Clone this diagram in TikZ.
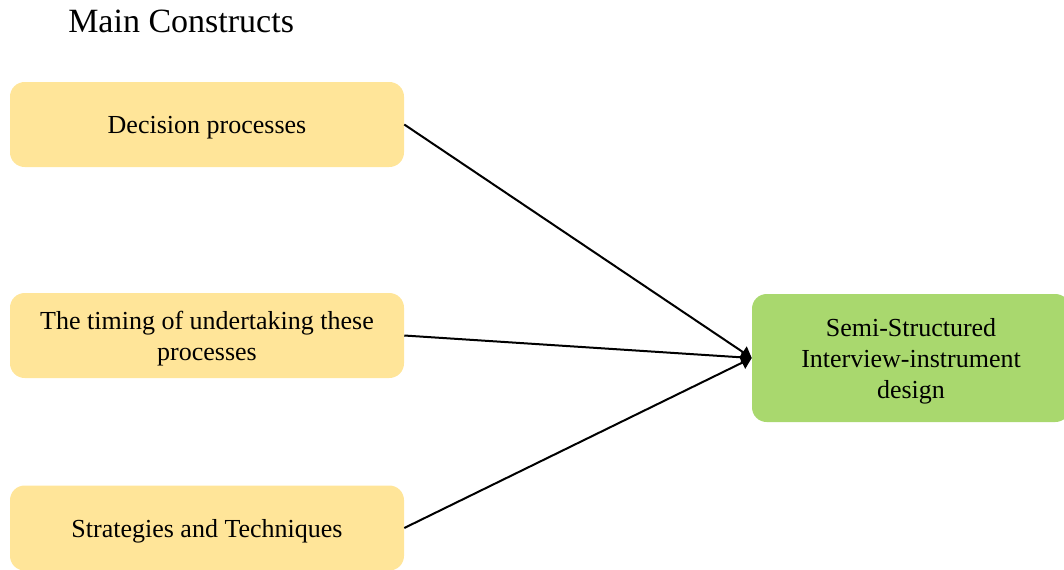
\documentclass[tikz,border=0pt]{standalone}
\usepackage{fontspec}
\setmainfont{Liberation Serif}
\usetikzlibrary{arrows.meta}
\definecolor{constructfill}{HTML}{FFE599}
\definecolor{designfill}{HTML}{A9D86E}
\begin{document}
\begin{tikzpicture}[x=0.75pt,y=-0.75pt,
  construct/.style={rectangle,rounded corners=11pt,fill=constructfill,inner sep=0pt,
    minimum width=295.5pt,minimum height=63.75pt},
  design/.style={rectangle,rounded corners=11pt,fill=designfill,inner sep=0pt,
    minimum width=238.5pt,minimum height=96pt},
  boxtext/.style={inner sep=0pt,align=center,yshift=-2.4pt,
    font=\fontsize{19.5}{23.25}\selectfont},
  link/.style={line width=1.5pt,-{Triangle[length=8pt,width=10pt]}}]
  \useasboundingbox (0,0) rectangle (1064,569);
  \clip (0,0) rectangle (1064,569);
  \node[anchor=base west,inner sep=0pt,font=\fontsize{25.5}{30}\selectfont] (title) at (68,32) {Main Constructs};
  % boxes
  \node[construct] (dec) at (207,124.5) {};
  \node[construct] (tim) at (207,335.5) {};
  \node[construct] (str) at (207,528) {};
  \node[design] (sem) at (911,358) {};
  % box texts
  \node[boxtext] (dect) at (dec.center) {Decision processes};
  \node[boxtext] (timt) at (tim.center) {The timing of undertaking these\\processes};
  \node[boxtext] (strt) at (str.center) {Strategies and Techniques};
  \node[boxtext] (semt) at (sem.center) {Semi-Structured\\Interview-instrument\\design};
  % connectors
  \draw[link] (dec.east) -- (sem.west);
  \draw[link] (tim.east) -- (sem.west);
  \draw[link] (str.east) -- (sem.west);
\end{tikzpicture}
\end{document}
